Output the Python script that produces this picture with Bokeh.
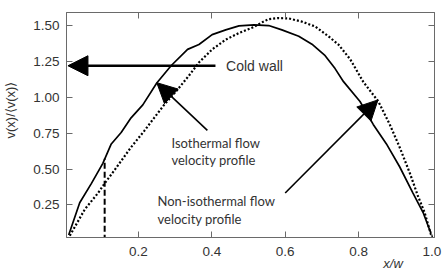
import numpy as np
from bokeh.plotting import figure
from bokeh.models import (Range1d, LinearAxis, FixedTicker, PrintfTickFormatter,
                          Label, Arrow, NormalHead)
from bokeh.embed import file_html
from bokeh.resources import INLINE

# Isothermal flow velocity profile (solid)
iso_x = [0.010, 0.040, 0.072, 0.103, 0.126, 0.153, 0.180, 0.212, 0.250, 0.289,
         0.334, 0.365, 0.401, 0.438, 0.474, 0.515, 0.555, 0.591, 0.637, 0.673,
         0.709, 0.736, 0.759, 0.804, 0.840, 0.876, 0.912, 0.948, 0.976, 1.001]
iso_v = [0.040, 0.265, 0.400, 0.540, 0.675, 0.755, 0.857, 0.947, 1.100, 1.220,
         1.334, 1.368, 1.437, 1.470, 1.498, 1.505, 1.500, 1.470, 1.425, 1.370,
         1.290, 1.200, 1.109, 0.971, 0.811, 0.675, 0.516, 0.334, 0.197, 0.027]

# Non-isothermal flow velocity profile (dotted)
noniso_x = [0.013, 0.054, 0.090, 0.108, 0.135, 0.180, 0.216, 0.243, 0.270, 0.302,
            0.338, 0.365, 0.401, 0.438, 0.474, 0.515, 0.535, 0.555, 0.580, 0.609,
            0.646, 0.682, 0.718, 0.745, 0.777, 0.813, 0.854, 0.885, 0.912, 0.940,
            0.962, 0.980, 0.998]
noniso_v = [0.035, 0.220, 0.333, 0.400, 0.493, 0.652, 0.766, 0.857, 0.947, 1.039,
            1.152, 1.243, 1.334, 1.402, 1.448, 1.490, 1.520, 1.545, 1.552, 1.550,
            1.527, 1.493, 1.425, 1.368, 1.266, 1.107, 0.971, 0.811, 0.652, 0.470,
            0.311, 0.197, 0.038]

# Cold wall marker (dashed vertical)
wall_x = [0.108, 0.108]
wall_v = [0.0, 0.572]

x_ticks = [0.2, 0.4, 0.6, 0.8, 1.0]
top_ticks = [0.2, 0.4, 0.6, 0.8]
y_ticks = [0.25, 0.50, 0.75, 1.00, 1.25, 1.50]
x_title = "x/w"
y_title = "v(x)/\u27e8v(x)\u27e9"

GREY = "#6a6a6a"
TXT = "#333333"

p = figure(width=445, height=273, output_backend="svg", toolbar_location=None,
           x_range=Range1d(0.004, 1.007), y_range=Range1d(0.023, 1.591),
           min_border_left=63, min_border_right=11, min_border_top=12,
           min_border_bottom=31, tools="")
p.grid.visible = False
p.outline_line_color = GREY
p.outline_line_width = 1

for ax, ticks, fmt in ((p.xaxis[0], x_ticks, "%.1f"), (p.yaxis[0], y_ticks, "%.2f")):
    ax.ticker = FixedTicker(ticks=ticks)
    ax.formatter = PrintfTickFormatter(format=fmt)
    ax.major_tick_in = 6
    ax.major_tick_out = 0
    ax.minor_tick_line_color = None
    ax.axis_line_color = GREY
    ax.major_tick_line_color = GREY
    ax.major_label_text_font = "Liberation Sans"
    ax.major_label_text_font_size = "13.5px"
    ax.major_label_text_color = TXT
p.yaxis[0].major_label_standoff = 7
p.xaxis[0].major_label_standoff = 9

def tick_only_axis(ticks):
    return LinearAxis(ticker=FixedTicker(ticks=ticks),
                      major_label_overrides={t: "" for t in ticks},
                      major_label_standoff=0,
                      major_tick_in=6, major_tick_out=0, minor_tick_line_color=None,
                      axis_line_color=GREY, major_tick_line_color=GREY)

p.add_layout(tick_only_axis(top_ticks), "above")
p.add_layout(tick_only_axis(y_ticks), "right")

# axis titles placed as single tick labels on extra (line-less) axes
XT_POS = 0.894
YT_POS = 0.911
xt_axis = LinearAxis(ticker=FixedTicker(ticks=[XT_POS]),
                     major_label_overrides={XT_POS: x_title},
                     major_label_standoff=-9, major_tick_line_color=None,
                     minor_tick_line_color=None, axis_line_color=None,
                     major_label_text_font="Liberation Sans",
                     major_label_text_font_style="italic",
                     major_label_text_font_size="13px",
                     major_label_text_color=TXT)
yt_axis = LinearAxis(ticker=FixedTicker(ticks=[YT_POS]),
                     major_label_overrides={YT_POS: y_title},
                     major_label_orientation="vertical",
                     major_label_standoff=6, major_tick_line_color=None,
                     minor_tick_line_color=None, axis_line_color=None,
                     major_label_text_font="Liberation Sans",
                     major_label_text_font_size="13px",
                     major_label_text_color=TXT)
p.add_layout(xt_axis, "below")
p.add_layout(yt_axis, "left")

p.line(iso_x, iso_v, line_color="black", line_width=1.7)
p.line(noniso_x, noniso_v, line_color="black", line_width=2.2, line_dash="2 2")
p.line(wall_x, wall_v, line_color="black", line_width=2, line_dash="6 3")

# arrows
p.add_layout(Arrow(end=NormalHead(size=20, fill_color="black", line_color="black"),
                   x_start=0.41, y_start=1.22, x_end=0.008, y_end=1.22,
                   line_width=2.5, line_color="black"))
p.add_layout(Arrow(end=NormalHead(size=20, fill_color="black", line_color="black"),
                   x_start=0.388, y_start=0.77, x_end=0.250, y_end=1.102,
                   line_width=1.6, line_color="black"))
p.add_layout(Arrow(end=NormalHead(size=20, fill_color="black", line_color="black"),
                   x_start=0.600, y_start=0.333, x_end=0.853, y_end=0.982,
                   line_width=1.6, line_color="black"))

def lab(x, y, t, font="Liberation Sans", size="14px", **kw):
    p.add_layout(Label(x=x, y=y, text=t, text_font=font, text_font_size=size,
                       text_color=TXT, text_baseline="middle", **kw))

lab(0.439, 1.218, "Cold wall")
lab(0.290, 0.679, "Isothermal flow", font="Lato", size="13px")
lab(0.290, 0.563, "velocity profile", font="Lato", size="13px")
lab(0.252, 0.277, "Non-isothermal flow", font="Lato", size="13px")
lab(0.252, 0.154, "velocity profile", font="Lato", size="13px")

open("out.html", "w").write(file_html(p, INLINE))
